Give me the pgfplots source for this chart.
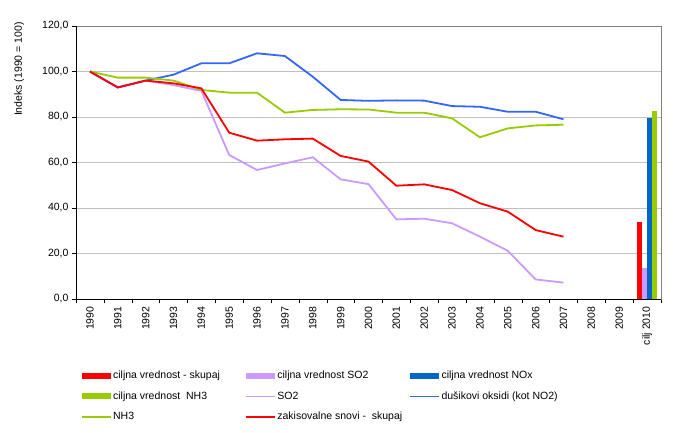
\documentclass[border=0pt]{standalone}
\usepackage{pgfplots}
\pgfplotsset{compat=1.18}
\usepackage{fontspec}
\setmainfont{Liberation Sans}
\definecolor{cRed}{HTML}{FF0000}
\definecolor{cLil}{HTML}{CC99FF}
\definecolor{cBlueBar}{HTML}{0066CC}
\definecolor{cBlueLine}{HTML}{3366FF}
\definecolor{cGreen}{HTML}{99CC00}
\definecolor{cGrid}{HTML}{C0C0C0}
\definecolor{cBorder}{HTML}{808080}
\pgfplotsset{
  barleg/.style={legend image code/.code={\fill[##1] (0pt,-3pt) rectangle (29pt,3pt);}},
  lineleg/.style={legend image code/.code={\draw[##1,line width=1.2pt] (0pt,0pt) -- (29pt,0pt);}},
}
\newcommand{\lw}[1]{\makebox[131pt][l]{#1}}
\begin{document}
\begin{tikzpicture}
\useasboundingbox (-76pt,-133pt) rectangle (601pt,299pt);
\begin{axis}[
  scale only axis,
  width=585pt, height=273pt,
  at={(0,0)}, anchor=south west,
  xmin=-0.5, xmax=20.5,
  ymin=0, ymax=120,
  ytick={0,20,...,120},
  xtick={0,...,20},
  xticklabels={1990,1991,1992,1993,1994,1995,1996,1997,1998,1999,2000,2001,2002,2003,2004,2005,2006,2007,2008,2009,cilj 2010},
  minor xtick={-0.5,0.5,...,20.5},
  major x tick style={draw=none},
  minor x tick style={black},
  y tick style={black},
  tick pos=left,
  tick align=outside,
  major tick length=4pt,
  minor tick length=4pt,
  ymajorgrids,
  grid style={cGrid, line width=0.8pt},
  axis line style={cBorder, line width=0.8pt},
  xticklabel style={rotate=90, anchor=east, font=\fontsize{10.5}{12}\selectfont},
  yticklabel style={font=\fontsize{10.5}{12}\selectfont},
  /pgf/number format/.cd, fixed, fixed zerofill, precision=1, use comma, assume math mode=true,
  /pgfplots/.cd,
  ylabel={Indeks (1990 = 100)},
  ylabel style={at={(axis description cs:-0.097,0.842)}, anchor=center, font=\fontsize{10.5}{12}\selectfont},
  legend columns=3,
  legend style={at={(axis description cs:0.009,-0.256)}, anchor=north west, draw=none, inner sep=0pt,
    font=\fontsize{10.5}{12}\selectfont, row sep=7.5pt, column sep=0pt, nodes={inner xsep=1.5pt}},
  legend cell align=left,
]
\addplot[ybar, bar width=5pt, bar shift=-7.5pt, fill=cRed, draw=none, barleg] coordinates {(20,34)};
\addlegendentry{\lw{ciljna vrednost - skupaj}}
\addplot[ybar, bar width=5pt, bar shift=-2.5pt, fill=cLil, draw=none, barleg] coordinates {(20,13.6)};
\addlegendentry{\lw{ciljna vrednost SO2}}
\addplot[ybar, bar width=5pt, bar shift=2.5pt, fill=cBlueBar, draw=none, barleg] coordinates {(20,79.7)};
\addlegendentry{ciljna vrednost NOx}
\addplot[ybar, bar width=5pt, bar shift=7.5pt, fill=cGreen, draw=none, barleg] coordinates {(20,82.6)};
\addlegendentry{\lw{ciljna vrednost\ \ NH3}}
% SO2
\addplot[cLil, line width=1.8pt, lineleg] coordinates {
(0,100)(1,93)(2,96)(3,94)(4,91.5)(5,63.3)(6,56.7)(7,59.6)(8,62.3)(9,52.6)(10,50.5)(11,35.0)(12,35.3)(13,33.3)(14,27.4)(15,21.2)(16,8.6)(17,7.2)};
\addlegendentry{\lw{SO2}}
% NOx
\addplot[cBlueLine, line width=1.8pt, lineleg] coordinates {
(0,100)(1,93)(2,96)(3,98.6)(4,103.6)(5,103.6)(6,108)(7,106.8)(8,97.7)(9,87.5)(10,87.1)(11,87.3)(12,87.2)(13,84.8)(14,84.5)(15,82.3)(16,82.3)(17,79.0)};
\addlegendentry{dušikovi oksidi (kot NO2)}
% NH3
\addplot[cGreen, line width=1.8pt, lineleg] coordinates {
(0,100)(1,97.3)(2,97.3)(3,96)(4,91.9)(5,90.7)(6,90.7)(7,81.9)(8,83.1)(9,83.4)(10,83.3)(11,81.9)(12,81.9)(13,79.4)(14,71.1)(15,75.0)(16,76.3)(17,76.6)};
\addlegendentry{\lw{NH3}}
% total
\addplot[cRed, line width=1.8pt, lineleg] coordinates {
(0,100)(1,93.0)(2,96.0)(3,94.8)(4,92.6)(5,73.1)(6,69.6)(7,70.2)(8,70.5)(9,62.9)(10,60.4)(11,49.8)(12,50.4)(13,47.9)(14,42.1)(15,38.4)(16,30.3)(17,27.4)};
\addlegendentry{\lw{zakisovalne snovi -\ \ skupaj}}
\draw[black, line width=0.8pt] (rel axis cs:0,1) -- (rel axis cs:0,0) -- (rel axis cs:1,0);
\end{axis}
\end{tikzpicture}
\end{document}
